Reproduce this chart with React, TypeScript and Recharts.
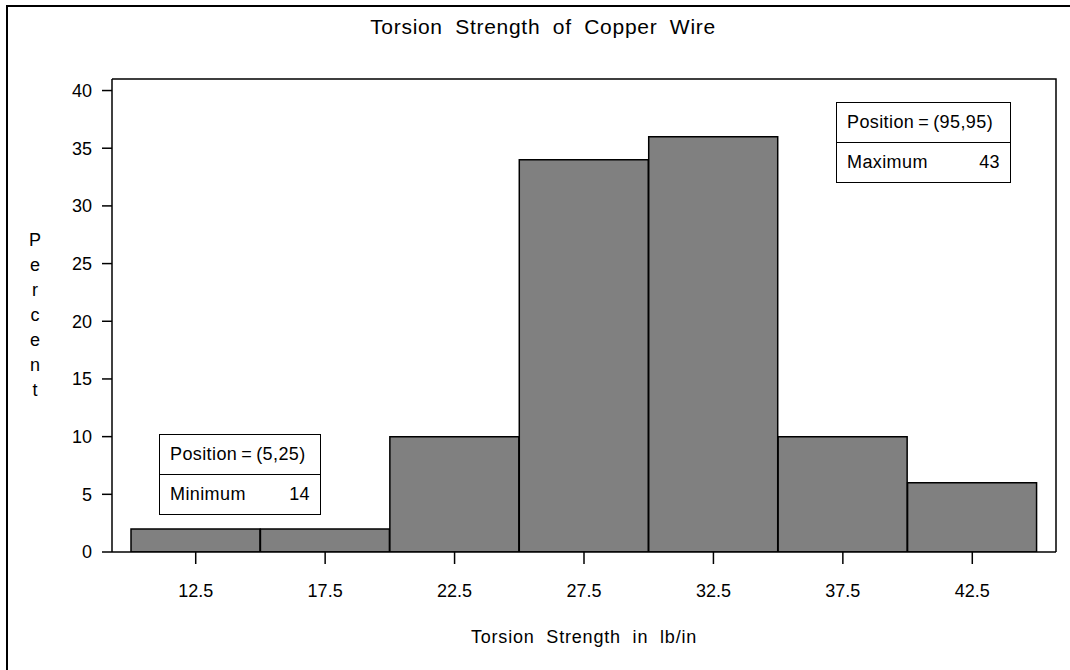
import { BarChart, Bar, XAxis, YAxis } from "recharts";

/* ── Data ── */

const midpoints = ["12.5", "17.5", "22.5", "27.5", "32.5", "37.5", "42.5"];
const percents = [2, 2, 10, 34, 36, 10, 6];
const percentTicks = [0, 5, 10, 15, 20, 25, 30, 35, 40];

const insetLow = { position: "(5,25)", label: "Minimum", value: "14" };
const insetHigh = { position: "(95,95)", label: "Maximum", value: "43" };

const chartData = midpoints.map((m, i) => ({ mid: m, pct: percents[i] }));

/* ── Styles ── */

const FONT = "'Liberation Sans', Arial, Helvetica, sans-serif";
const INK = "#000";

function Inset({ info, style }: { info: typeof insetLow; style: React.CSSProperties }) {
  const row: React.CSSProperties = {
    height: 39,
    display: "flex",
    alignItems: "center",
    justifyContent: "space-between",
    padding: "0 10px",
  };
  return (
    <div
      style={{
        position: "absolute",
        background: "#fff",
        border: `1.5px solid ${INK}`,
        fontFamily: FONT,
        fontSize: 18,
        letterSpacing: 0.4,
        color: INK,
        boxSizing: "border-box",
        ...style,
      }}
    >
      <div style={{ ...row, borderBottom: `1.5px solid ${INK}` }}>
        <span>Position{"\u2009"}={"\u2009"}{info.position}</span>
      </div>
      <div style={row}>
        <span>{info.label}</span>
        <span>{info.value}</span>
      </div>
    </div>
  );
}

export default function App() {
  return (
    <div style={{ position: "fixed", left: 0, top: 0, width: 1070, height: 670, overflow: "hidden", background: "#fff" }}>
      {/* outer page frame, runs off the right and bottom edges */}
      <div
        style={{
          position: "absolute",
          left: 6,
          top: 5,
          width: 1200,
          height: 800,
          border: `2px solid ${INK}`,
        }}
      />

      <div
        style={{
          position: "absolute",
          left: 0,
          width: 1086,
          top: 15,
          textAlign: "center",
          fontFamily: FONT,
          fontSize: 21,
          wordSpacing: 6,
          letterSpacing: 0.7,
          color: INK,
        }}
      >
        Torsion Strength of Copper Wire
      </div>

      <div style={{ position: "absolute", left: 0, top: 0 }}>
        <BarChart
          width={1070}
          height={670}
          data={chartData}
          margin={{ top: 79, right: 14, bottom: 58, left: 32 }}
          barCategoryGap={0}
          barGap={0}
        >
          <XAxis
            dataKey="mid"
            padding={{ left: 19, right: 19 }}
            height={60}
            tickSize={12}
            tickMargin={20}
            axisLine={{ stroke: INK, strokeWidth: 1.5 }}
            tickLine={{ stroke: INK, strokeWidth: 1.5 }}
            tick={{ fill: INK, fontSize: 18, fontFamily: FONT }}
          />
          <YAxis
            domain={[0, 41]}
            ticks={percentTicks}
            allowDataOverflow
            width={80}
            tickSize={10}
            tickMargin={10}
            axisLine={{ stroke: INK, strokeWidth: 1.5 }}
            tickLine={{ stroke: INK, strokeWidth: 1.5 }}
            tick={{ fill: INK, fontSize: 18, fontFamily: FONT }}
          />
          <Bar dataKey="pct" fill="#808080" stroke={INK} strokeWidth={1.5} isAnimationActive={false} />
        </BarChart>
      </div>

      {/* top and right edges of the plot frame */}
      <svg width={1070} height={670} style={{ position: "absolute", left: 0, top: 0, pointerEvents: "none" }}>
        <polyline points="112,79 1056,79 1056,552" fill="none" stroke={INK} strokeWidth={1.5} />
      </svg>

      {/* vertical axis title, one letter per line */}
      <div
        style={{
          position: "absolute",
          left: 25,
          width: 20,
          top: 228,
          textAlign: "center",
          fontFamily: FONT,
          fontSize: 18,
          lineHeight: "25px",
          color: INK,
        }}
      >
        {"Percent".split("").map((c, i) => (
          <div key={i}>{c}</div>
        ))}
      </div>

      <div
        style={{
          position: "absolute",
          left: 112,
          width: 944,
          top: 627,
          textAlign: "center",
          fontFamily: FONT,
          fontSize: 18,
          wordSpacing: 6,
          letterSpacing: 0.8,
          color: INK,
        }}
      >
        Torsion Strength in lb/in
      </div>

      <Inset info={insetLow} style={{ left: 159, top: 434, width: 162, height: 81 }} />
      <Inset info={insetHigh} style={{ left: 836, top: 102, width: 175, height: 81 }} />
    </div>
  );
}
